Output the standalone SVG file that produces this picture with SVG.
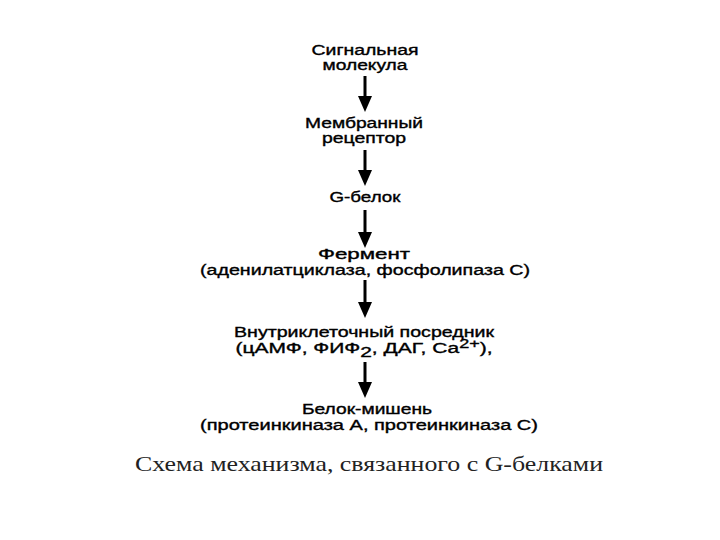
<svg xmlns="http://www.w3.org/2000/svg" width="720" height="540" viewBox="0 0 720 540">
<style>
.t{font-family:"Liberation Sans",Arial,sans-serif;font-size:14px;fill:#000;stroke:#000;stroke-width:0.35;text-anchor:middle}
.c{font-family:"Liberation Serif","Times New Roman",serif;font-size:21px;fill:#222;text-anchor:middle}
.a{stroke:#000;stroke-width:3;fill:none}
.h{fill:#000}
</style>
<rect width="720" height="540" fill="#fff"/>
<g id="connectors">
<line class="a" x1="365" y1="76" x2="365" y2="96"/><path class="h" d="M358,96 L372,96 L365,112 Z"/>
<line class="a" x1="365" y1="150" x2="365" y2="170"/><path class="h" d="M358,170 L372,170 L365,186 Z"/>
<line class="a" x1="365" y1="210" x2="365" y2="232"/><path class="h" d="M358,232 L372,232 L365,248 Z"/>
<line class="a" x1="365" y1="280" x2="365" y2="302"/><path class="h" d="M358,302 L372,302 L365,318 Z"/>
<line class="a" x1="365" y1="362" x2="365" y2="382"/><path class="h" d="M358,382 L372,382 L365,398 Z"/>
</g>
<g id="n1"><text class="t" x="365" y="55" textLength="107" lengthAdjust="spacingAndGlyphs">Сигнальная</text><text class="t" x="365" y="70" textLength="85" lengthAdjust="spacingAndGlyphs">молекула</text></g>
<g id="n2"><text class="t" x="364" y="128" textLength="118" lengthAdjust="spacingAndGlyphs">Мембранный</text><text class="t" x="364" y="143" textLength="84" lengthAdjust="spacingAndGlyphs">рецептор</text></g>
<g id="n3"><text class="t" x="365" y="202" textLength="71" lengthAdjust="spacingAndGlyphs">G-белок</text></g>
<g id="n4"><text class="t" x="364" y="259" textLength="92" lengthAdjust="spacingAndGlyphs">Фермент</text><text class="t" x="365" y="275" textLength="330" lengthAdjust="spacingAndGlyphs">(аденилатциклаза,  фосфолипаза  С)</text></g>
<g id="n5"><text class="t" x="364" y="337" textLength="260" lengthAdjust="spacingAndGlyphs">Внутриклеточный  посредник</text><text class="t" x="364" y="353" textLength="257" lengthAdjust="spacingAndGlyphs">(цАМФ,  ФИФ<tspan dy="4">2</tspan><tspan dy="-4">,  ДАГ,  Са</tspan><tspan dy="-5" font-size="12">2+</tspan><tspan dy="5">),</tspan></text></g>
<g id="n6"><text class="t" x="367" y="414" textLength="130" lengthAdjust="spacingAndGlyphs">Белок-мишень</text><text class="t" x="369" y="430" textLength="338" lengthAdjust="spacingAndGlyphs">(протеинкиназа  А,  протеинкиназа  С)</text></g>
<text class="c" x="369" y="471" textLength="468" lengthAdjust="spacingAndGlyphs">Схема механизма, связанного с G-белками</text>
</svg>
